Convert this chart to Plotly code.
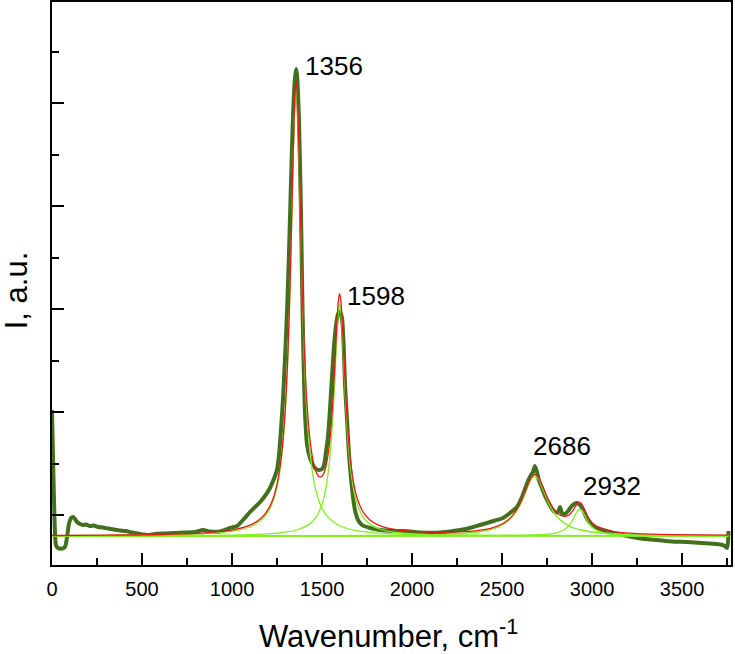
import plotly.graph_objects as go

FONT = 'Liberation Sans, Arial, sans-serif'
DARK_GREEN = '#41701f'
LIGHT_GREEN = '#80f020'
RED = '#e8181b'

# measured Raman spectrum (wavenumber, intensity a.u.)
meas_x = [0, 6, 14, 22, 33, 56, 72, 83, 94, 106, 117, 128, 139, 156, 172, 189, 211, 233,
          256, 283, 311, 344, 378, 411, 444, 478, 506, 533, 572, 628, 683, 739, 794, 839,
          878, 933, 989, 1028, 1061, 1100, 1128, 1156, 1183, 1211, 1228, 1239, 1250, 1261,
          1272, 1283, 1294, 1306, 1317, 1328, 1339, 1350, 1356, 1361, 1372, 1383, 1389,
          1397, 1406, 1417, 1433, 1450, 1467, 1483, 1500, 1511, 1522, 1533, 1544, 1556,
          1567, 1578, 1589, 1600, 1611, 1619, 1628, 1639, 1650, 1661, 1672, 1683, 1700,
          1722, 1767, 1822, 1889, 1961, 2044, 2139, 2211, 2267, 2322, 2378, 2417, 2461,
          2506, 2544, 2583, 2611, 2628, 2644, 2661, 2672, 2683, 2694, 2706, 2722, 2739,
          2756, 2778, 2794, 2811, 2822, 2833, 2850, 2867, 2883, 2900, 2917, 2933, 2950,
          2967, 2989, 3017, 3061, 3128, 3211, 3294, 3361, 3444, 3528, 3611, 3694, 3733,
          3750, 3756, 3758]
meas_y = [208, 158, 98, 73, 70, 69.5, 71, 80, 94, 100, 101, 99, 96, 94, 93, 93.5, 92, 92.5,
          91, 90.5, 89.5, 88.5, 87.5, 87, 85.5, 84.5, 83.5, 83, 84, 84.5, 85, 85.5, 86, 88,
          86.5, 86.5, 90, 92, 98, 106, 111, 116, 122, 130, 137, 142, 148, 163,
          188, 218, 258, 308, 368, 438, 503, 540, 549, 543, 498, 408, 338,
          261, 203, 173, 160, 153, 149, 148, 149, 153, 166, 181, 208, 243,
          273, 293, 304, 306, 300, 278, 233, 198, 163, 140, 121, 108, 98,
          93, 90, 88, 87, 87, 85.5, 85.3, 86.5, 88, 90, 93, 95, 97.5,
          100, 105, 111, 121, 129, 137, 143, 146, 152, 146, 137, 130, 122,
          116, 109, 106, 106, 111, 105, 104, 107, 111, 114, 115, 113, 108,
          101, 95, 91, 88, 84.5, 81.5, 79, 78, 76.5, 76, 75, 74, 72.5,
          70, 78, 87]

# Lorentzian components (each sits on the baseline)
d_x = [0, 56, 556, 856, 1036, 1126, 1186, 1226, 1256, 1276, 1296, 1311, 1321, 1331, 1340,
       1348, 1356, 1364, 1372, 1381, 1391, 1401, 1416, 1436, 1456, 1486, 1526, 1586, 1676,
       1856, 2156, 2656, 3758]
d_y = [82.3, 82.4, 83.0, 84.4, 87.9, 93.3, 102.3, 115.6, 135.9, 160.9, 205.4, 262.7, 318.4,
       389.6, 459.4, 510.0, 530.0, 510.0, 459.4, 389.6, 318.4, 262.7, 205.4, 160.9, 135.9,
       115.6, 102.3, 93.3, 87.9, 84.4, 83.0, 82.4, 82.1]

g_x = [0, 798, 1098, 1278, 1368, 1428, 1468, 1498, 1518, 1538, 1553, 1563, 1573, 1582, 1590,
       1598, 1606, 1614, 1623, 1633, 1643, 1658, 1678, 1698, 1728, 1768, 1828, 1918, 2098,
       2398, 3758]
g_y = [82.1, 82.6, 83.4, 85.4, 88.5, 93.6, 101.2, 112.6, 126.5, 150.9, 181.5, 210.5, 246.4,
       280.6, 304.6, 314.0, 304.6, 280.6, 246.4, 210.5, 181.5, 150.9, 126.5, 112.6, 101.2,
       93.6, 88.5, 85.4, 83.4, 82.6, 82.1]

d2_x = [0, 1182, 1782, 2182, 2382, 2482, 2542, 2582, 2607, 2632, 2652, 2667, 2682, 2697,
        2712, 2732, 2757, 2782, 2822, 2882, 2982, 3182, 3758]
d2_y = [82.1, 82.2, 82.5, 83.7, 86.5, 91.2, 98.2, 107.2, 115.7, 126.6, 135.4, 140.2, 142.0,
        140.2, 135.4, 126.6, 115.7, 107.2, 98.2, 91.2, 86.5, 83.7, 82.4]

p_x = [0, 1500, 2232, 2582, 2732, 2802, 2842, 2867, 2884, 2896, 2908, 2920, 2932, 2944, 2956,
       2968, 2980, 2997, 3022, 3062, 3132, 3282, 3758]
p_y = [82.0, 82.0, 82.1, 82.5, 83.5, 85.2, 88.0, 91.5, 95.5, 99.3, 103.6, 107.4, 109.0,
       107.4, 103.6, 99.3, 95.5, 91.5, 88.0, 85.2, 83.5, 82.5, 82.1]

base_x = [0, 3758]
base_y = [82, 82]

# cumulative fit
fit_x = [0, 300, 600, 850, 1000, 1100, 1160, 1200, 1230, 1256, 1276, 1296, 1311, 1321, 1331,
         1340, 1348, 1356, 1364, 1372, 1381, 1391, 1401, 1416, 1436, 1456, 1476, 1490, 1505,
         1520, 1535, 1550, 1563, 1573, 1582, 1590, 1598, 1606, 1614, 1623, 1633, 1643, 1658,
         1678, 1698, 1728, 1768, 1828, 1918, 2050, 2200, 2350, 2450, 2532, 2582, 2607, 2632,
         2652, 2667, 2682, 2697, 2712, 2732, 2757, 2782, 2810, 2840, 2870, 2896, 2908, 2920,
         2932, 2944, 2956, 2968, 2985, 3010, 3050, 3120, 3250, 3450, 3758]
fit_y = [82.5, 82.9, 83.5, 85.2, 87.9, 92.8, 99.4, 108.3, 120.3, 139.1, 164.5, 209.4, 267.1,
         323.1, 394.6, 464.8, 515.7, 536.1, 516.5, 466.3, 397.1, 326.6, 271.7, 215.8, 173.8,
         152.4, 142.9, 140.9, 143.0, 150.4, 165.0, 190.2, 224.7, 259.3, 292.6, 315.8, 324.5,
         314.5, 289.9, 255.1, 218.6, 189.1, 157.8, 132.6, 118.2, 106.1, 97.7, 91.8, 88.1,
         86.1, 85.8, 87.1, 90.4, 97.8, 108.5, 117.0, 128.0, 136.9, 141.7, 143.6, 141.9, 137.3,
         128.7, 118.2, 110.3, 104.5, 101.8, 102.8, 108.0, 111.6, 114.7, 115.7, 113.6, 109.4,
         104.7, 99.0, 93.7, 89.3, 86.3, 84.3, 83.3, 82.8]

peak_labels = ['1356', '1598', '2686', '2932']
label_x = [1564, 1800, 2833, 3111]
label_y = [552, 322, 172, 132]

fig = go.Figure()

fig.add_trace(go.Scatter(
    x=meas_x, y=meas_y, mode='lines',
    line=dict(color=DARK_GREEN, width=4, shape='spline', smoothing=0.6),
))

for cx, cy in [(base_x, base_y), (d_x, d_y), (g_x, g_y), (d2_x, d2_y), (p_x, p_y)]:
    fig.add_trace(go.Scatter(
        x=cx, y=cy, mode='lines',
        line=dict(color=LIGHT_GREEN, width=1.3, shape='spline', smoothing=0.8),
    ))

fig.add_trace(go.Scatter(
    x=fit_x, y=fit_y, mode='lines',
    line=dict(color=RED, width=1.3, shape='spline', smoothing=0.8),
))

for txt, lx, ly in zip(peak_labels, label_x, label_y):
    fig.add_annotation(x=lx, y=ly, text=txt, showarrow=False,
                       xanchor='center', yanchor='middle',
                       font=dict(family=FONT, size=26, color='black'))

fig.add_annotation(xref='paper', yref='paper', x=0.495, y=-0.122,
                   text='Wavenumber, cm<sup>-1</sup>', showarrow=False,
                   xanchor='center', yanchor='middle',
                   font=dict(family=FONT, size=31, color='black'))
fig.add_annotation(xref='paper', yref='paper', x=-0.053, y=0.488,
                   text='I, a.u.', showarrow=False, textangle=-90,
                   xanchor='center', yanchor='middle',
                   font=dict(family=FONT, size=31, color='black'))

axis_common = dict(
    showline=True, linecolor='black', linewidth=2, mirror=True,
    showgrid=False, zeroline=False, automargin=False,
    ticks='inside', ticklen=12, tickwidth=2, tickcolor='black',
)

fig.update_layout(
    width=735, height=654,
    margin=dict(l=52, r=4, t=2, b=89, autoexpand=False),
    paper_bgcolor='white', plot_bgcolor='white',
    showlegend=False,
    font=dict(family=FONT, color='black'),
    xaxis=dict(
        range=[0, 3772], tick0=0, dtick=500,
        tickfont=dict(family=FONT, size=20, color='black'),
        ticklabelstandoff=5,
        minor=dict(dtick=250, ticks='inside', ticklen=7, tickwidth=2, tickcolor='black'),
        **axis_common,
    ),
    yaxis=dict(
        range=[53, 616], tick0=0, dtick=103, showticklabels=False,
        minor=dict(tick0=0, dtick=51.5, ticks='inside', ticklen=7, tickwidth=2,
                   tickcolor='black'),
        **axis_common,
    ),
)

# drop the browser's default body margin so the figure sits at the page corner
fig.write_html("out.html", config={'displayModeBar': False},
               post_script="document.body.style.margin='0';")
